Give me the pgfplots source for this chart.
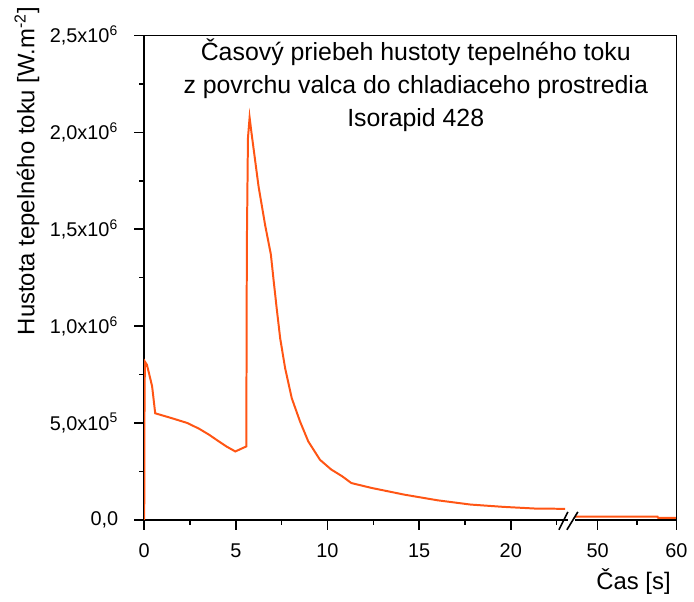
\documentclass[border=0pt]{standalone}
\usepackage{fontspec}
\setmainfont{Liberation Sans}
\usepackage{pgfplots}
\pgfplotsset{compat=1.18}
\definecolor{curve}{RGB}{255,85,20}

\begin{document}
\begin{tikzpicture}[x=1pt,y=1pt]
\pgfplotsset{
  every axis/.append style={
    scale only axis,
    height=243.5pt,
    ymin=0, ymax=2.5,
    tick align=outside,
    major tick length=5pt,
    minor tick length=2.5pt,
    every tick/.style={black, line width=0.8pt},
    axis line style={line width=0.8pt},
    ticklabel style={font=\fontsize{10}{12}\selectfont},
    xticklabel style={yshift=-3.5pt},
    yticklabel style={xshift=-4.5pt},
  },
}

% segment 0 - 23 s
\begin{axis}[
    name=ax1,
    at={(0,0)}, anchor=south west,
    width=212.85pt,
    xmin=0, xmax=23.1,
    axis x line*=bottom,
    axis y line*=left,
    xtick={0,5,10,15,20},
    xticklabels={0,5,10,15,20},
    minor xtick={2.5,7.5,12.5,17.5,22.5},
    ytick={0,0.5,1,1.5,2,2.5},
    yticklabels={{0,0},{5,0x10\textsuperscript{5}},{1,0x10\textsuperscript{6}},{1,5x10\textsuperscript{6}},{2,0x10\textsuperscript{6}},{2,5x10\textsuperscript{6}}},
    minor ytick={0.25,0.75,1.25,1.75,2.25},
]
\addplot[curve, line width=1pt] coordinates {
    (0,0) (0.02,0.70) (0.05,0.815) (0.15,0.80) (0.43,0.69) (0.6,0.55)
    (1.5,0.525) (2.35,0.50) (3.0,0.47) (3.53,0.44) (4.07,0.405) (4.5,0.378)
    (4.97,0.353) (5.57,0.379) (5.60,1.42) (5.66,1.97) (5.75,2.077)
    (5.85,2.00) (6.24,1.72) (6.6,1.52) (6.91,1.37) (7.05,1.245)
    (7.23,1.09) (7.42,0.936) (7.69,0.782) (8.05,0.628) (8.50,0.508)
    (8.95,0.405) (9.59,0.31) (10.2,0.26) (10.8,0.225) (11.3,0.19)
    (12.39,0.165) (14.2,0.130) (16.0,0.101) (17.8,0.079) (19.6,0.067)
    (21.4,0.058) (22.97,0.057)
};
\end{axis}

% segment 47 - 60 s
\begin{axis}[
    name=ax2,
    at={(216.5pt,0)}, anchor=south west,
    width=51pt,
    xmin=47.1, xmax=60,
    axis x line*=bottom,
    axis y line=none,
    ytick=\empty,
    xtick={50,60},
    xticklabels={50,60},
    minor xtick={55},
]
\addplot[curve, line width=1pt] coordinates {
    (47.1,0.016) (50,0.017) (57.6,0.017) (57.7,0.010) (60,0.010)
};
\end{axis}

% frame top and right
\draw[line width=0.8pt] (ax1.north west) -- (ax2.north east) -- (ax2.south east);
% break marks
\draw[line width=0.8pt] (208.5,-5) -- (213,4);
\draw[line width=0.8pt] (212.5,-5) -- (218,4);

\node[font=\fontsize{12}{14}\selectfont, rotate=90] at (-59,175.35) {Hustota tepelného toku [W.m\textsuperscript{-2}]};
\node[font=\fontsize{12}{14}\selectfont] at (246,-31.2) {Čas [s]};
\node[font=\fontsize{12.5}{16.5}\selectfont, align=center] at (136.5,218.4)
    {Časový priebeh hustoty tepelného toku\\z povrchu valca do chladiaceho prostredia\\Isorapid 428};

% page margins as in the reference
\path (-72.5,-37.15) rectangle (274.5,261.35);
\end{tikzpicture}
\end{document}
